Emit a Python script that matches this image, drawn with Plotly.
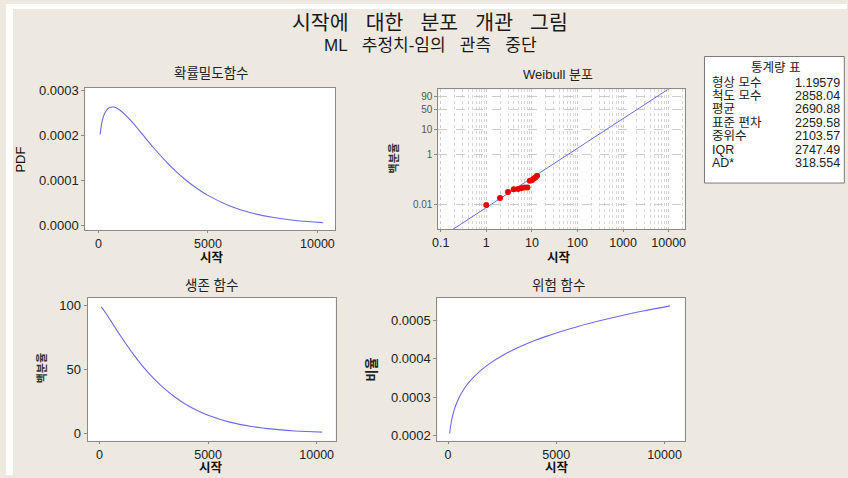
import numpy as np
import plotly.graph_objects as go

# ---- data -------------------------------------------------------------
# fitted Weibull parameters (ML estimates) and summary statistics
shape_param = 1.19579
scale_param = 2858.04
stat_labels = ["형상 모수", "척도 모수", "평균", "표준 편차", "중위수", "IQR", "AD*"]
stat_values = ["1.19579", "2858.04", "2690.88", "2259.58", "2103.57", "2747.49", "318.554"]

# sampled curves over the time range
curve_x = [75, 150, 200, 300, 500, 700, 1000, 1500, 2000, 2500, 3000, 3500,
           4000, 4500, 5000, 6000, 7000, 8000, 9000, 10250]
pdf_vals = [2.025e-4, 2.281e-4, 2.385e-4, 2.515e-4, 2.626e-4, 2.638e-4, 2.562e-4,
            2.322e-4, 2.032e-4, 1.739e-4, 1.464e-4, 1.218e-4, 1.002e-4, 8.18e-5,
            6.63e-5, 4.27e-5, 2.69e-5, 1.67e-5, 1.02e-5, 5.4e-6]
surv_vals = [98.7, 97.1, 95.9, 93.5, 88.3, 83.0, 75.2, 63.0, 52.1, 42.7, 34.7, 28.0,
             22.4, 17.9, 14.2, 8.8, 5.4, 3.3, 1.9, 1.0]
haz_vals = [2.051e-4, 2.350e-4, 2.486e-4, 2.691e-4, 2.974e-4, 3.177e-4, 3.406e-4,
            3.688e-4, 3.902e-4, 4.076e-4, 4.224e-4, 4.353e-4, 4.469e-4, 4.573e-4,
            4.668e-4, 4.838e-4, 4.986e-4, 5.118e-4, 5.238e-4, 5.373e-4]

# probability plot: observed failure times and plotting positions (percent)
obs_time = [1, 2, 3, 4, 5, 6, 7, 8, 9, 10, 11, 12, 13]
obs_pct = [0.0094, 0.018, 0.031, 0.040, 0.041, 0.045, 0.048, 0.048, 0.088, 0.094,
           0.11, 0.12, 0.14]
fit_line_x = [0.15, 1, 10, 100, 1000, 10000, 12000]

prob_ticks = [0.01, 1, 10, 50, 90]
prob_ticktext = ["0.01", "1", "10", "50", "90"]
logx_ticks = [0.1, 1, 10, 100, 1000, 10000]
logx_ticktext = ["0.1", "1", "10", "100", "1000", "10000"]

# ---- helpers ----------------------------------------------------------
W, H = 848, 478
BG = "#EDE9E1"
LINE = "#6B6BE6"
FONT = "Liberation Sans, Noto Sans CJK KR, sans-serif"
SP = "\u00a0"


def fx(px):
    return px / W


def fy(py):
    return 1 - py / H


def weib(p_pct):
    p = np.asarray(p_pct, dtype=float) / 100.0
    return np.log(-np.log(1 - p))


fit_line_y = shape_param * (np.log(fit_line_x) - np.log(scale_param))

fig = go.Figure()

fig.add_trace(go.Scatter(x=curve_x, y=pdf_vals, mode="lines", line=dict(color=LINE, width=1.1, shape="spline"),
                         xaxis="x", yaxis="y", showlegend=False))
fig.add_trace(go.Scatter(x=fit_line_x, y=fit_line_y, mode="lines", line=dict(color=LINE, width=1.0),
                         xaxis="x2", yaxis="y2", showlegend=False))
fig.add_trace(go.Scatter(x=obs_time, y=weib(obs_pct), mode="markers",
                         marker=dict(color="#E80000", size=6), xaxis="x2", yaxis="y2", showlegend=False))
fig.add_trace(go.Scatter(x=curve_x, y=surv_vals, mode="lines", line=dict(color=LINE, width=1.1, shape="spline"),
                         xaxis="x3", yaxis="y3", showlegend=False))
fig.add_trace(go.Scatter(x=curve_x, y=haz_vals, mode="lines", line=dict(color=LINE, width=1.1, shape="spline"),
                         xaxis="x4", yaxis="y4", showlegend=False))

axis_common = dict(showline=True, mirror=True, linecolor="#8a8a8a", linewidth=1,
                   ticks="outside", ticklen=3, tickcolor="#8a8a8a", showgrid=False,
                   zeroline=False, tickfont=dict(family=FONT, size=13, color="#222"))

x_common = dict(axis_common, ticklen=2, tickfont=dict(family=FONT, size=12.5, color="#222"))
lin_x = dict(x_common, tickvals=[0, 5000, 10000], ticktext=["0", "5000", "10000"])

fig.update_layout(
    width=W, height=H,
    margin=dict(l=0, r=0, t=0, b=0),
    paper_bgcolor=BG, plot_bgcolor="white",
    xaxis=dict(lin_x, domain=[fx(80), fx(332)], range=[-600, 10815], anchor="y"),
    yaxis=dict(axis_common, domain=[fy(229.3), fy(85)], range=[-0.000011, 0.000307],
               tickvals=[0, 0.0001, 0.0002, 0.0003], tickformat=".4f", anchor="x"),
    xaxis2=dict(x_common, type="log", domain=[fx(436), fx(684.3)], range=[-1.05, 4.35], anchor="y2",
                tickvals=logx_ticks, ticktext=logx_ticktext,
                showgrid=True, gridcolor="#cccccc", griddash="dot", gridwidth=1,
                minor=dict(dtick="D1", showgrid=True, gridcolor="#d6d6d6", griddash="dot", gridwidth=1)),
    yaxis2=dict(axis_common, domain=[fy(228.3), fy(86.7)], range=[-11.5, 1.45], anchor="x2",
                tickvals=weib(prob_ticks), ticktext=prob_ticktext,
                tickfont=dict(family=FONT, size=10, color="#555"),
                showgrid=True, gridcolor="#cccccc", griddash="dash", gridwidth=1),
    xaxis3=dict(lin_x, domain=[fx(82.3), fx(332.3)], range=[-550, 10870], anchor="y3"),
    yaxis3=dict(axis_common, domain=[fy(443.3), fy(298.3)], range=[-5.8, 105.7],
                tickvals=[0, 50, 100], anchor="x3"),
    xaxis4=dict(lin_x, domain=[fx(435), fx(684.3)], range=[-490, 10930], anchor="y4"),
    yaxis4=dict(axis_common, domain=[fy(443.3), fy(298.3)], range=[0.000186, 0.000558],
                tickvals=[0.0002, 0.0003, 0.0004, 0.0005], tickformat=".4f", anchor="x4"),
)

# white strips along the top and left edges of the page
fig.add_shape(type="rect", xref="paper", yref="paper", x0=0, x1=1, y0=fy(5), y1=1,
              fillcolor="white", line=dict(width=0), layer="below")
fig.add_shape(type="rect", xref="paper", yref="paper", x0=0, x1=fx(7), y0=0, y1=1,
              fillcolor="white", line=dict(width=0), layer="below")

# statistics table box
fig.add_shape(type="rect", xref="paper", yref="paper", x0=fx(704.3), x1=fx(845.3),
              y0=fy(181.7), y1=fy(53.3), fillcolor="white", line=dict(color="#7a7a7a", width=1))


def text(x, y, s, size=13, color="#111", angle=0, xanchor="center", family=FONT):
    fig.add_annotation(x=fx(x), y=fy(y), xref="paper", yref="paper", text=s, showarrow=False,
                       xanchor=xanchor, yanchor="middle", textangle=angle, borderpad=0,
                       font=dict(family=family, size=size, color=color))


# main titles
text(428, 19, (SP * 3).join(["시작에", "대한", "분포", "개관", "그림"]), size=20.5, color="#1a1a1a")
text(428, 42, (SP * 3).join(["ML", "추정치-임의", "관측", "중단"]), size=17, color="#1a1a1a")

# panel titles
text(207, 71, "확률밀도함수", size=13.5, color="#222")
text(557, 72, "Weibull 분포", size=13, color="#222")
text(207, 286, "생존 함수", size=13.5, color="#222")
text(557, 286, "위험 함수", size=13.5, color="#222")

# axis titles
for xc, yc in [(208, 257.5), (558, 257.5), (207, 471), (556, 471)]:
    text(xc, yc, "<b>시작</b>", size=12.5)
text(15, 158, "PDF", size=13, angle=-90)
text(391, 157, "<b>백분율</b>", size=11, angle=-90, color="#333")
text(36, 370, "<b>백분율</b>", size=11, angle=-90, color="#333")
text(369, 371, "<b>비율</b>", size=13, angle=-90, color="#222")

# statistics table text
text(776, 65, "통계량 표", size=12.5, color="#222")
row_y = [80, 93.4, 107, 120.6, 134.2, 147.8, 161.4]
for yy, lab, val in zip(row_y, stat_labels, stat_values):
    text(711, yy, lab, size=12.5, xanchor="left", color="#222")
    text(795, yy, val, size=12.5, xanchor="left", color="#222")

fig.write_html("out.html")
